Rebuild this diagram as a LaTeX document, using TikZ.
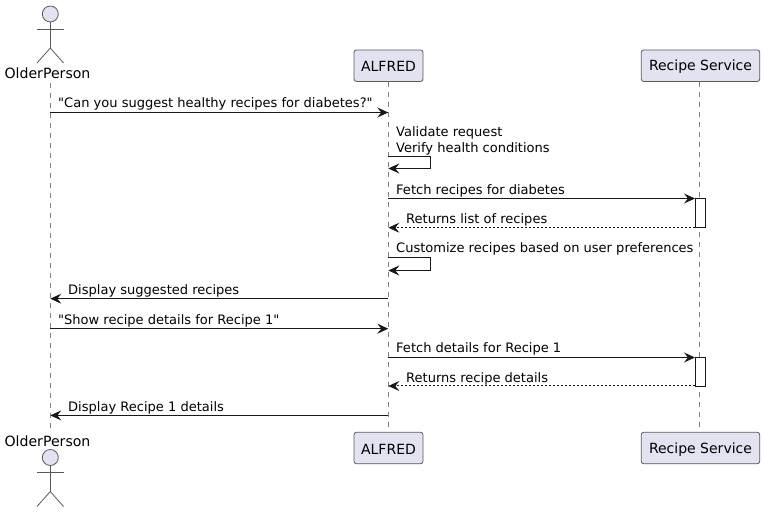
\documentclass[tikz,border=0pt]{standalone}
\usepackage{fontspec}
\newfontfamily\djfont{DejaVu Sans}
\usetikzlibrary{arrows.meta,positioning}
\definecolor{partfill}{HTML}{E2E2F0}
\definecolor{partline}{HTML}{5A5A5A}
\definecolor{lifeline}{HTML}{808080}
\definecolor{callline}{HTML}{181818}
\tikzset{
  x=1pt,y=-1pt,
  part/.style={draw=partline,fill=partfill,rounded corners=2.5pt,line width=0.8pt,minimum height=31.5pt,inner sep=0pt,font=\djfont\fontsize{14}{16}\selectfont,text=black,anchor=center},
  actorname/.style={font=\djfont\fontsize{14.1}{16}\selectfont,text=black,inner sep=0pt,anchor=base},
  msg/.style={font=\djfont\fontsize{13.03}{15.2}\selectfont,text=black,inner sep=0pt,anchor=base west,align=left},
  life/.style={draw=lifeline,line width=0.8pt,dash pattern=on 5pt off 5pt},
  stick/.style={draw=partline,line width=0.8pt},
  call/.style={draw=callline,line width=1pt,-{Stealth[length=11pt,width=10pt,inset=4pt]}},
  reply/.style={call,dash pattern=on 2pt off 2pt},
  activ/.style={draw=callline,fill=white,line width=0.9pt},
}
\begin{document}
\begin{tikzpicture}
\useasboundingbox (0,0) rectangle (764,513);
% participants
\node[actorname] (opT) at (47.5,78.5) {OlderPerson};
\node[actorname] (opB) at (47.5,446.5) {OlderPerson};
\node[part,minimum width=69pt] (alT) at (388.5,65.7) {\raisebox{-0.8pt}[\height][\depth]{ALFRED}};
\node[part,minimum width=69pt] (alB) at (388.5,448) {\raisebox{-1.6pt}[\height][\depth]{ALFRED}};
\node[part,minimum width=118.5pt] (reT) at (700.5,65.7) {\raisebox{-0.8pt}[\height][\depth]{Recipe Service}};
\node[part,minimum width=118.5pt] (reB) at (700.5,448) {\raisebox{-1.6pt}[\height][\depth]{Recipe Service}};
% lifelines
\coordinate (opS) at (50.3,83);
\coordinate (opE) at (50.3,433);
\draw[life] (opS) -- (opE);
\draw[life] (alT.south) -- (alB.north);
\draw[life] (reT.south) ++(-1.2,0) coordinate (reS) -- (reB.north -| reS);
% actors
\foreach \n/\y in {top/0,bot/443.5}{
  \begin{scope}[yshift=-\y pt]
    \node[circle,draw=partline,fill=partfill,line width=0.8pt,minimum size=16pt,inner sep=0pt] (head\n) at (50.3,14) {};
    \coordinate (hip\n) at (50.3,48);
    \coordinate (armL\n) at (37,29);
    \coordinate (armR\n) at (63.5,29);
    \coordinate (legL\n) at (37,63);
    \coordinate (legR\n) at (63.5,63);
    \draw[stick] (head\n.south) -- (hip\n);
    \draw[stick] (armL\n) -- (armR\n);
    \draw[stick] (legL\n) -- (hip\n) -- (legR\n);
  \end{scope}
}
% anchor points on lifelines
\foreach \r/\y in {a/112.5,b/156.3,c/168.5,d/198.5,e/227.7,f/257.5,g/270.5,h/298.7,i/328.7,j/357.5,k/386,l/415.4}{
  \coordinate (O\r) at (50.3,\y);
  \coordinate (A\r) at (388.3,\y);
  \coordinate (R\r) at (695,\y);
  \coordinate (L\r) at (430.7,\y);
}
% activations
\node[activ,minimum width=10.5pt,minimum height=29.2pt,inner sep=0pt] (act1) at (700.5,213.1) {};
\node[activ,minimum width=10.5pt,minimum height=28.5pt,inner sep=0pt] (act2) at (700.5,371.75) {};
% messages
\draw[call] (Oa) -- (Aa);
\node[msg] (m1) at (58,108) {"Can you suggest healthy recipes for diabetes?"};
\draw[call] (Ab) -- (Lb) -- (Lc) -- (Ac);
\node[msg] (m2a) at (396,137) {Validate request};
\node[msg] (m2b) at (396,153) {Verify health conditions};
\draw[call] (Ad) -- (Rd);
\node[msg] (m3) at (396,195) {Fetch recipes for diabetes};
\draw[reply] (Re) -- (Ae);
\node[msg] (m4) at (406,224) {Returns list of recipes};
\draw[call] (Af) -- (Lf) -- (Lg) -- (Ag);
\node[msg] (m5) at (396,253) {Customize recipes based on user preferences};
\draw[call] (Ah) -- (Oh);
\node[msg] (m6) at (68,295) {Display suggested recipes};
\draw[call] (Oi) -- (Ai);
\node[msg] (m7) at (58,325) {"Show recipe details for Recipe 1"};
\draw[call] (Aj) -- (Rj);
\node[msg] (m8) at (396,353) {Fetch details for Recipe 1};
\draw[reply] (Rk) -- (Ak);
\node[msg] (m9) at (406,382) {Returns recipe details};
\draw[call] (Al) -- (Ol);
\node[msg] (m10) at (68,411) {Display Recipe 1 details};
\end{tikzpicture}
\end{document}
